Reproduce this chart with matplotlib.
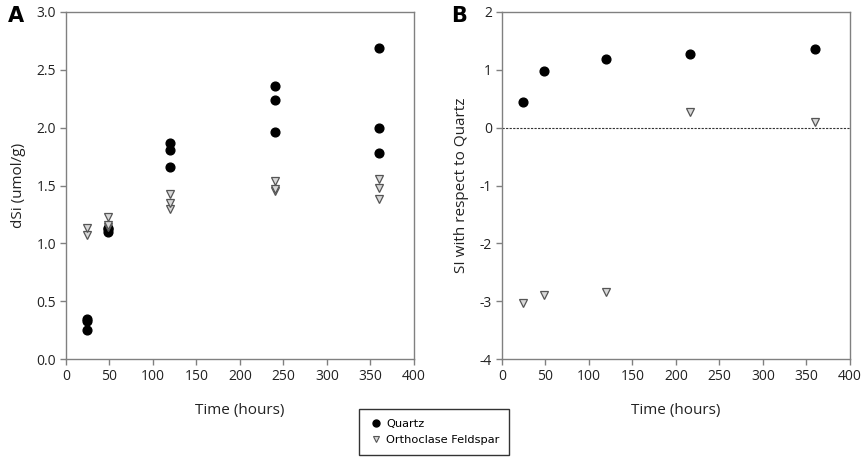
import matplotlib
matplotlib.use("Agg")
import matplotlib.pyplot as plt
from matplotlib.lines import Line2D

plt.rcParams['font.family'] = ['Open Sans', 'DejaVu Sans']
plt.rcParams['axes.unicode_minus'] = False

# Panel A data
a_quartz_t = [24, 24, 24, 48, 48, 48, 120, 120, 120, 240, 240, 240, 360, 360, 360]
a_quartz_v = [0.25, 0.33, 0.35, 1.10, 1.12, 1.13, 1.66, 1.81, 1.87, 1.96, 2.24, 2.36, 1.78, 2.00, 2.69]
a_feld_t = [24, 24, 48, 48, 48, 120, 120, 120, 240, 240, 240, 360, 360, 360]
a_feld_v = [1.07, 1.135, 1.145, 1.16, 1.225, 1.30, 1.345, 1.43, 1.455, 1.467, 1.54, 1.383, 1.475, 1.555]

# Panel B data
b_t = [24, 48, 120, 216, 360]
b_quartz_si = [0.44, 0.98, 1.18, 1.27, 1.36]
b_feld_si = [-3.03, -2.90, -2.84, 0.27, 0.10]

x_ticks = [0, 50, 100, 150, 200, 250, 300, 350, 400]
a_yticks = [0.0, 0.5, 1.0, 1.5, 2.0, 2.5, 3.0]
b_yticks = [-4, -3, -2, -1, 0, 1, 2]

fig = plt.figure(figsize=(8.65, 4.63), dpi=100)
axA = fig.add_axes([0.0763, 0.2246, 0.4023, 0.7495])
axB = fig.add_axes([0.5803, 0.2246, 0.4023, 0.7495])

q_style = dict(marker='o', linestyle='none', color='black', markersize=6.3)
f_style = dict(marker='v', linestyle='none', markerfacecolor='#d8d8d8',
               markeredgecolor='#555555', markeredgewidth=0.9, markersize=6.0)

axA.plot(a_quartz_t, a_quartz_v, **q_style)
axA.plot(a_feld_t, a_feld_v, **f_style)
axB.axhline(0, color='#333333', linestyle=(0, (2, 1.2)), linewidth=0.8)
axB.plot(b_t, b_quartz_si, **q_style)
axB.plot(b_t, b_feld_si, **f_style)

for ax, yt, ylab, fmt in [(axA, a_yticks, 'dSi (umol/g)', '{:.1f}'),
                          (axB, b_yticks, 'SI with respect to Quartz', '{:d}')]:
    ax.set_xlim(0, 400)
    ax.set_xticks(x_ticks)
    ax.set_ylim(yt[0], yt[-1])
    ax.set_yticks(yt)
    ax.set_yticklabels([fmt.format(v) for v in yt])
    for s in ax.spines.values():
        s.set_color('#808080')
        s.set_linewidth(1.0)
    ax.tick_params(axis='both', direction='out', length=4, width=1.0,
                   color='#808080', labelsize=10, labelcolor='#222222', pad=3)
    ax.set_xlabel('Time (hours)', fontsize=11, labelpad=14, color='#222222')
    ax.set_ylabel(ylab, fontsize=11, labelpad=8, color='#222222')

fig.text(0.009, 0.965, 'A', fontsize=15, fontweight='bold', family='DejaVu Sans', va='center')
fig.text(0.521, 0.965, 'B', fontsize=15, fontweight='bold', family='DejaVu Sans', va='center')

handles = [Line2D([], [], marker='o', linestyle='none', color='black', markersize=5),
           Line2D([], [], marker='v', linestyle='none', markerfacecolor='#d8d8d8',
                  markeredgecolor='#555555', markeredgewidth=0.8, markersize=5)]
leg = fig.legend(handles, ['Quartz', 'Orthoclase Feldspar'], loc='center',
                 bbox_to_anchor=(0.502, 0.0665), frameon=True, fancybox=False,
                 edgecolor='black', prop={'family': 'DejaVu Sans', 'size': 8.2},
                 handletextpad=0.3, borderpad=0.85, labelspacing=0.55, handlelength=1.2)
leg.get_frame().set_linewidth(1.0)

fig.savefig('out.png', dpi=100)
